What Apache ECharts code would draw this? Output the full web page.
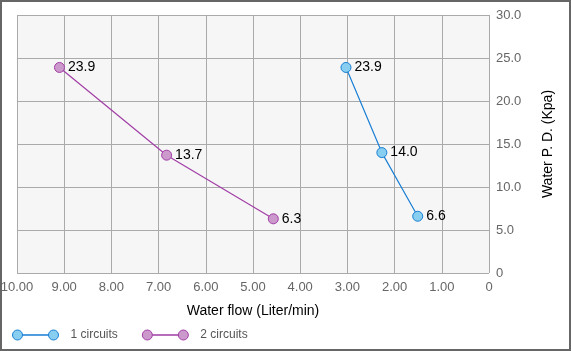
<!DOCTYPE html>
<html>
<head>
<meta charset="utf-8">
<script src="https://cdn.jsdelivr.net/npm/echarts@6/dist/echarts.min.js"></script>
<style>
  html, body { margin: 0; padding: 0; background: #fff; }
  #main { width: 571px; height: 351px; box-sizing: border-box; border: 2px solid #666; }
</style>
</head>
<body>
<div id="main"></div>
<script>
// data
const flow1 = [3.03, 2.27, 1.51]
const pd1 = [23.9, 14.0, 6.6]
const flow2 = [9.10, 6.83, 4.57]
const pd2 = [23.9, 13.7, 6.3]
const seriesNames = ['1 circuits', '2 circuits']

const toPairs = (xs, ys) => xs.map((x, i) => [x, ys[i]])

// legend icon: circle - line - circle
const legendIcon = 'path://M1,6A5,5,0,1,1,11,6A5,5,0,1,1,1,6Z' +
  'M11,5.9L37,5.9L37,6.1L11,6.1Z' +
  'M37,6A5,5,0,1,1,47,6A5,5,0,1,1,37,6Z'

const chart = echarts.init(document.getElementById('main'))

const lineSeries = (name, data, lineColor, fillColor) => ({
  name: name,
  type: 'line',
  data: data,
  symbol: 'circle',
  symbolSize: 10,
  lineStyle: { color: lineColor, width: 1.2 },
  itemStyle: { color: fillColor, borderColor: lineColor, borderWidth: 1 },
  label: {
    show: true,
    position: 'right',
    distance: 3,
    color: '#000',
    fontSize: 14,
    fontFamily: 'Liberation Sans, Arial, sans-serif',
    formatter: (p) => p.value[1].toFixed(1)
  },
  emphasis: { disabled: true },
  animation: false
})

chart.setOption({
  backgroundColor: '#fff',
  textStyle: { fontFamily: 'Liberation Sans, Arial, sans-serif' },
  grid: {
    left: 15,
    top: 13,
    width: 472,
    height: 258,
    outerBoundsMode: 'none',
    containLabel: false,
    show: true,
    backgroundColor: '#f6f6f6',
    borderWidth: 0
  },
  legend: {
    left: 5,
    top: 322,
    itemWidth: 46,
    itemHeight: 10,
    itemGap: 24,
    icon: legendIcon,
    data: seriesNames,
    itemStyle: { borderWidth: 1 },
    textStyle: { color: '#555', fontSize: 12, padding: [0, 0, 0, 7] }
  },
  xAxis: {
    type: 'value',
    inverse: true,
    min: 0,
    max: 10,
    interval: 1,
    name: 'Water flow (Liter/min)',
    nameLocation: 'middle',
    nameGap: 31,
    nameTextStyle: { color: '#000', fontSize: 14 },
    axisLine: { show: false },
    axisTick: { show: false },
    axisLabel: {
      color: '#666',
      fontSize: 13,
      margin: 8,
      formatter: (v) => (v === 0 ? '0' : v.toFixed(2))
    },
    splitLine: { show: true, lineStyle: { color: '#aaa', width: 1 } }
  },
  yAxis: {
    type: 'value',
    position: 'right',
    min: 0,
    max: 30,
    interval: 5,
    name: 'Water P. D. (Kpa)',
    nameLocation: 'middle',
    nameRotate: 90,
    nameGap: 52,
    nameTextStyle: { color: '#000', fontSize: 14 },
    axisLine: { show: false },
    axisTick: { show: false },
    axisLabel: {
      color: '#666',
      fontSize: 13,
      margin: 7,
      padding: [0, 0, 5, 0],
      formatter: (v) => (v === 0 ? '0' : v.toFixed(1))
    },
    splitLine: { show: true, lineStyle: { color: '#aaa', width: 1 } }
  },
  series: [
    lineSeries(seriesNames[0], toPairs(flow1, pd1), '#1a7fd4', '#87cef0'),
    lineSeries(seriesNames[1], toPairs(flow2, pd2), '#a23fa6', '#cc99cc')
  ]
})
</script>
</body>
</html>
